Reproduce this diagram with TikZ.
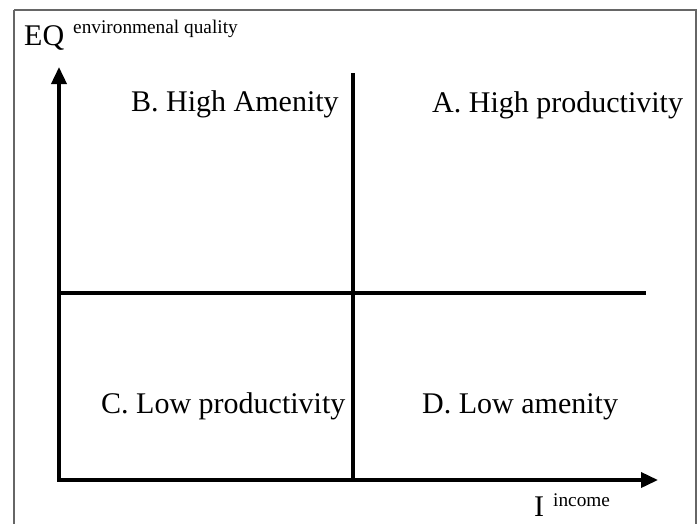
\documentclass[tikz,border=0pt]{standalone}
\usepackage{fontspec}
\setmainfont{Liberation Serif}
\usetikzlibrary{arrows.meta}
\begin{document}
\begin{tikzpicture}[x=1pt,y=-1pt,
  axis/.style={line width=3.6pt,-{Triangle[length=17pt,width=15pt]}},
  divider/.style={line width=3.6pt},
  big/.style={anchor=base west,inner sep=0pt,font=\fontsize{30}{33}\selectfont},
  small/.style={anchor=base west,inner sep=0pt,font=\fontsize{19.3}{21}\selectfont}]
\useasboundingbox (0,0) rectangle (700,523);
\fill[white] (0,0) rectangle (700,523);
\draw[gray!80!black,line width=1.4pt] (14,10) -- (14,530);
\draw[gray!80!black,line width=1.4pt] (14,10) -- (696,10) -- (696,530);
% coordinates
\coordinate (O) at (59,480);
\coordinate (Ytop) at (59,67);
\coordinate (Xend) at (658,480);
\coordinate (Vtop) at (353,73);
\coordinate (Vbot) at (353,480);
\coordinate (Hl) at (59,293);
\coordinate (Hr) at (646,293);
\draw[divider] (Vtop) -- (Vbot);
\draw[divider] (Hl) -- (Hr);
\draw[axis] ([yshift=1.8pt]O) -- (Ytop);
\draw[axis] ([xshift=-1.8pt]O) -- (Xend);
% labels
\node[big] (eq) at (24,45) {EQ};
\node[small] (eqs) at (73,33) {environmenal quality};
\node[big] (b) at (131,111) {B. High Amenity};
\node[big] (a) at (432,112) {A. High productivity};
\node[big] (c) at (101,413) {C. Low productivity};
\node[big] (d) at (422,413) {D. Low amenity};
\node[big] (i) at (534,516) {I};
\node[small] (is) at (553,506) {income};
\end{tikzpicture}
\end{document}
